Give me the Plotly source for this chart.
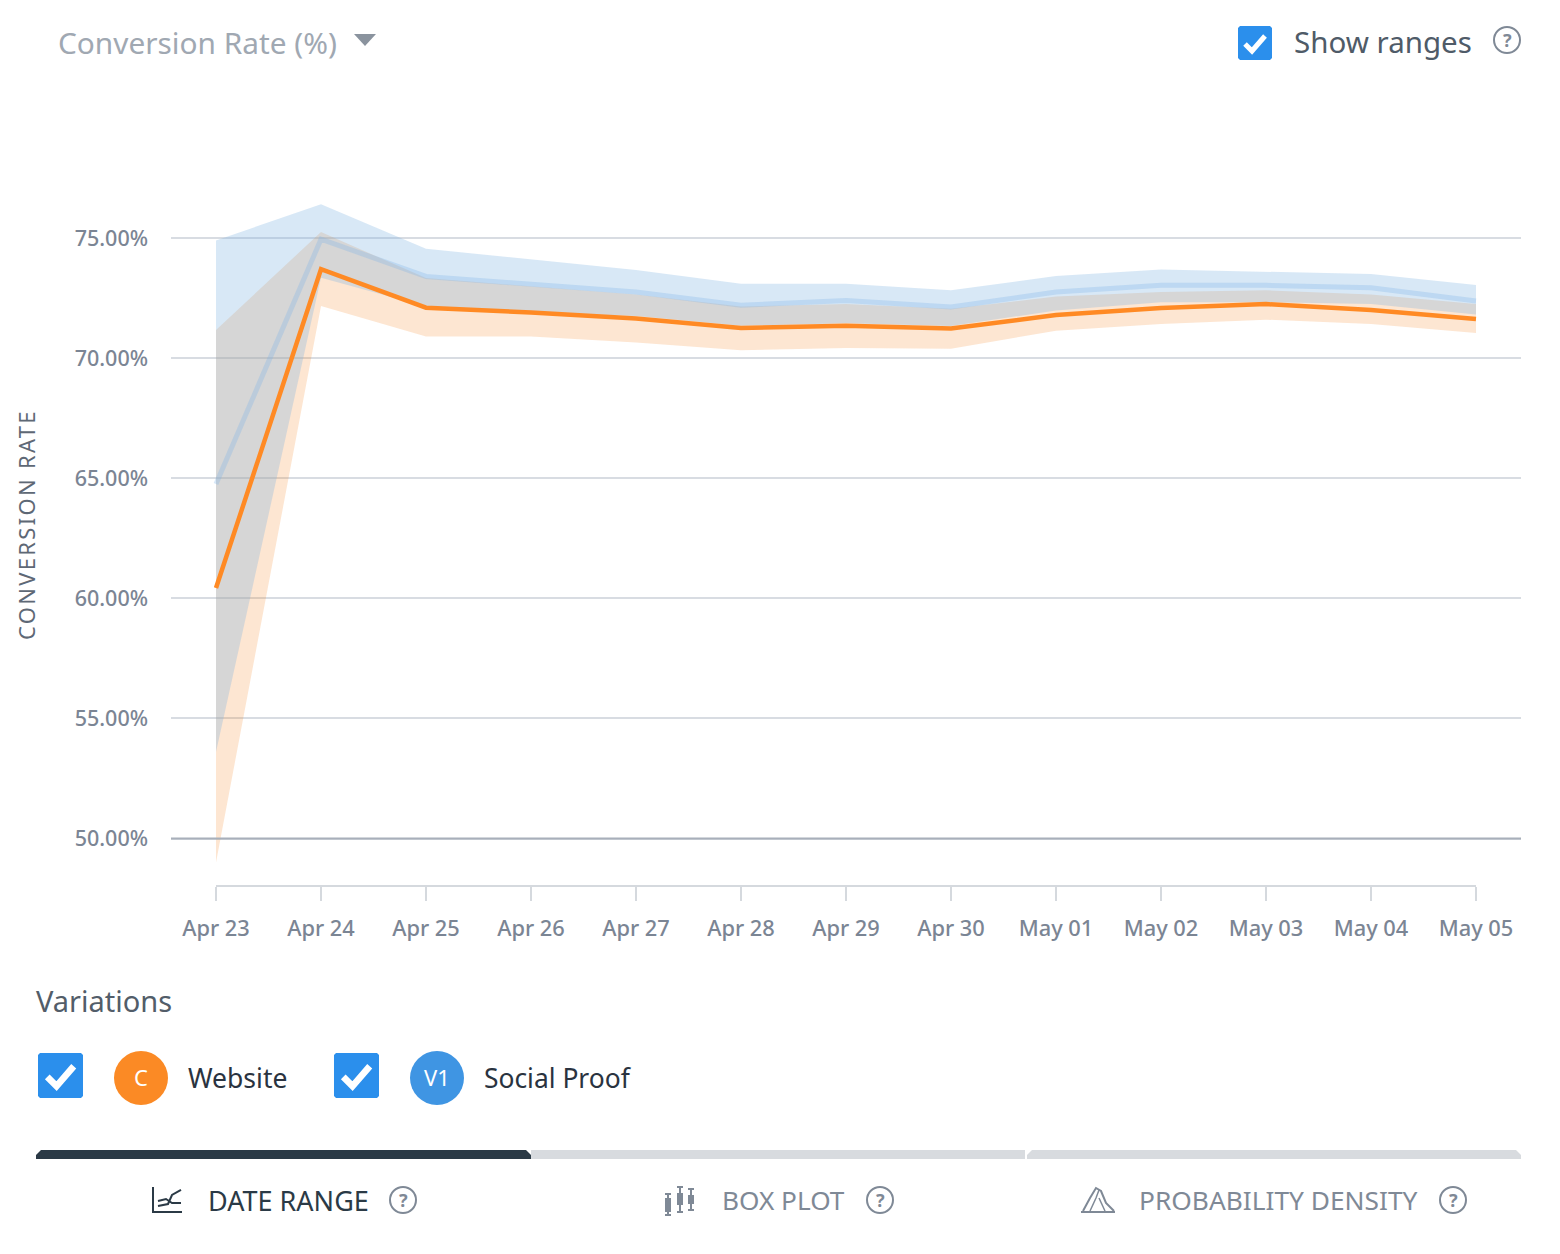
import plotly.graph_objects as go

W = 1560
H = 1254

days = ['Apr 23', 'Apr 24', 'Apr 25', 'Apr 26', 'Apr 27', 'Apr 28', 'Apr 29',
        'Apr 30', 'May 01', 'May 02', 'May 03', 'May 04', 'May 05']

website = [60.43, 73.7, 72.1, 71.9, 71.65, 71.25, 71.35, 71.23, 71.79, 72.09, 72.25, 72.0, 71.63]
website_hi = [71.17, 75.25, 73.33, 73.0, 72.65, 72.15, 72.25, 72.05, 72.56, 72.75, 72.82, 72.65, 72.25]
website_lo = [49.0, 72.17, 70.9, 70.9, 70.65, 70.33, 70.42, 70.39, 71.14, 71.42, 71.6, 71.42, 71.05]

social = [64.76, 74.95, 73.4, 73.1, 72.75, 72.2, 72.4, 72.13, 72.75, 73.03, 73.03, 72.93, 72.38]
social_hi = [74.9, 76.4, 74.55, 74.1, 73.67, 73.1, 73.1, 72.82, 73.42, 73.69, 73.58, 73.5, 73.04]
social_lo = [53.6, 73.34, 72.15, 71.9, 71.75, 71.35, 71.45, 71.34, 71.98, 72.33, 72.33, 72.25, 71.81]

y_ticks = [50, 55, 60, 65, 70, 75]
y_labels = ['50.00%', '55.00%', '60.00%', '65.00%', '70.00%', '75.00%']

FONT = 'Noto Sans'
BLUE = '#2b8fec'
ORANGE = '#ff8a24'
GREY = '#7f8996'
LIGHT = '#d8dbdf'
DARK = '#2b3a46'


def px(x):
    return x / W


def py(y):
    return 1 - y / H


def path(points, close=False):
    s = ''
    for i, (cmd, x, y) in enumerate(points):
        s += '%s %.5f %.5f ' % (cmd, px(x), py(y))
    return s + ('Z' if close else '')


shapes = []
annos = []


def label(x, y, text, size, color, anchor='left', weight=None):
    if anchor == 'left':
        x = x - 2
    annos.append(dict(x=px(x), y=py(y - 1), xref='paper', yref='paper', text=text, showarrow=False,
                      xanchor=anchor, yanchor='middle',
                      font=dict(family=FONT, size=size, color=color, weight=weight)))


def polyline(pts, color, width):
    shapes.append(dict(type='path', xref='paper', yref='paper',
                       path=path([('M' if i == 0 else 'L', a, b) for i, (a, b) in enumerate(pts)]),
                       line=dict(color=color, width=width)))


def box(x0, y0, x1, y1, color, r=0, top_only=False):
    if r == 0:
        pts = [('M', x0, y0), ('L', x1, y0), ('L', x1, y1), ('L', x0, y1)]
    elif top_only:
        pts = [('M', x0, y1), ('L', x0, y0 + r), ('L', x0 + r, y0), ('L', x1 - r, y0), ('L', x1, y0 + r), ('L', x1, y1)]
    else:
        pts = [('M', x0 + r, y0), ('L', x1 - r, y0), ('L', x1, y0 + r), ('L', x1, y1 - r),
               ('L', x1 - r, y1), ('L', x0 + r, y1), ('L', x0, y1 - r), ('L', x0, y0 + r)]
    shapes.append(dict(type='path', xref='paper', yref='paper', path=path(pts, True),
                       fillcolor=color, line=dict(width=0)))


def checkbox(x0, y0, size):
    box(x0, y0, x0 + size, y0 + size, BLUE, r=2)
    k = size / 34
    polyline([(x0 + 7 * k, y0 + 18 * k), (x0 + 14 * k, y0 + 25 * k), (x0 + 27 * k, y0 + 10 * k)],
             'white', 5 * k)


def circle(cx, cy, r, fill, line=None, lw=0):
    shapes.append(dict(type='circle', xref='paper', yref='paper',
                       x0=px(cx - r), x1=px(cx + r), y0=py(cy + r), y1=py(cy - r),
                       fillcolor=fill, line=dict(color=line, width=lw) if lw else dict(width=0)))


def help_icon(cx, cy):
    circle(cx, cy, 13, 'white', GREY, 2)
    label(cx, cy + 1, '<b>?</b>', 18, GREY, 'center')


# header
label(58, 44, 'Conversion Rate (%)', 29.8, '#a0a8b2')
shapes.append(dict(type='path', xref='paper', yref='paper',
                   path=path([('M', 354, 34), ('L', 376, 34), ('L', 365, 46)], True),
                   fillcolor='#8a939e', line=dict(width=0)))
checkbox(1238, 26, 34)
label(1294, 43, 'Show ranges', 29.5, '#4f5b68')
help_icon(1507, 40)

label(26, 526, '<span style="letter-spacing:2.3px">CONVERSION RATE</span>', 22, '#5e6875', 'center')
annos[-1]['textangle'] = -90

# legend row
label(36, 1001, 'Variations', 29, '#525d69')
checkbox(38, 1053, 45)
circle(141, 1078, 27, '#fb8a25')
label(141, 1078, 'C', 22, 'white', 'center')
label(188, 1079, 'Website', 26.5, '#2a3340')
checkbox(334, 1053, 45)
circle(437, 1078, 27, '#3f95e3')
label(437, 1078, 'V1', 22, 'white', 'center')
label(484, 1079, 'Social Proof', 26.4, '#2a3340')

# tabs
box(36, 1150, 531, 1159, DARK, r=5, top_only=True)
box(531, 1150, 1025, 1159, LIGHT)
box(1027, 1150, 1521, 1159, LIGHT, r=5, top_only=True)

polyline([(153, 1187), (153, 1212), (182, 1212)], DARK, 2)
polyline([(158, 1206), (168, 1204), (172, 1195), (181, 1190)], DARK, 2)
polyline([(158, 1201), (166, 1199), (172, 1203), (181, 1203)], DARK, 2)
label(208, 1201, 'DATE RANGE', 27, DARK)
help_icon(403, 1200)

for x, y0, y1, b0, b1 in [(668, 1194, 1215, 1198, 1212), (680, 1187, 1212, 1193, 1205), (691, 1189, 1210, 1195, 1204)]:
    polyline([(x, y0), (x, y1)], GREY, 2)
    polyline([(x - 3, y0), (x + 3, y0)], GREY, 2)
    polyline([(x - 3, y1), (x + 3, y1)], GREY, 2)
    box(x - 3, b0, x + 3, b1, GREY)
label(722, 1201, 'BOX PLOT', 26.2, GREY)
help_icon(880, 1200)

polyline([(1081, 1212), (1115, 1212)], GREY, 2)
polyline([(1083, 1211), (1090, 1198), (1096, 1188), (1101, 1191), (1106, 1203), (1114, 1211)], GREY, 2)
polyline([(1090, 1211), (1096, 1198), (1099, 1190)], GREY, 1.5)
polyline([(1099, 1198), (1105, 1211)], GREY, 1.5)
label(1139, 1201, 'PROBABILITY DENSITY', 26.3, GREY)
help_icon(1453, 1200)

# axis line and the darker 50% line
shapes.append(dict(type='line', xref='x', yref='paper', x0=days[0], x1=days[-1], y0=py(886), y1=py(886),
                   line=dict(color='#d5d9de', width=2)))
shapes.append(dict(type='line', xref='paper', yref='y', x0=px(171), x1=px(1521), y0=50, y1=50,
                   line=dict(color='#a8afba', width=2)))

fig = go.Figure()

fig.add_trace(go.Scatter(x=days, y=website_lo, mode='lines', line=dict(width=0), showlegend=False))
fig.add_trace(go.Scatter(x=days, y=website_hi, mode='lines', line=dict(width=0), fill='tonexty',
                         fillcolor='rgba(245,130,30,0.2)', showlegend=False))
fig.add_trace(go.Scatter(x=days, y=social_lo, mode='lines', line=dict(width=0), showlegend=False))
fig.add_trace(go.Scatter(x=days, y=social_hi, mode='lines', line=dict(width=0), fill='tonexty',
                         fillcolor='rgba(125,178,225,0.3)', showlegend=False))
fig.add_trace(go.Scatter(x=days, y=social, mode='lines', name='Social Proof',
                         line=dict(color='rgba(125,178,232,0.3)', width=5), showlegend=False))
fig.add_trace(go.Scatter(x=days, y=website, mode='lines', name='Website',
                         line=dict(color=ORANGE, width=4.5), showlegend=False))

fig.update_xaxes(type='category', domain=[px(171), px(1521)], range=[-0.4286, 12.4286],
                 tickvals=days, ticktext=days, ticks='outside', ticklen=14, tickwidth=2, tickcolor='#d5d9de',
                 ticklabelstandoff=9,
                 showgrid=False, showline=False, zeroline=False,
                 tickfont=dict(family=FONT, size=21.8, color='#7b8594', weight=500))
fig.update_yaxes(domain=[py(886), py(190)], range=[50 - 47.5 / 24.02, 50 + 648.5 / 24.02],
                 tickvals=y_ticks, ticktext=y_labels, ticks='', ticklabelstandoff=22,
                 showgrid=True, gridcolor='#d8dce2', gridwidth=2, showline=False, zeroline=False,
                 tickfont=dict(family=FONT, size=21.5, color='#7b8594', weight=500))
fig.update_layout(width=W, height=H, margin=dict(l=0, r=0, t=0, b=0, pad=0),
                  paper_bgcolor='white', plot_bgcolor='white',
                  font=dict(family=FONT), shapes=shapes, annotations=annos)

fig.write_html('out.html', config=dict(displayModeBar=False), post_script="document.body.style.margin='0';")
